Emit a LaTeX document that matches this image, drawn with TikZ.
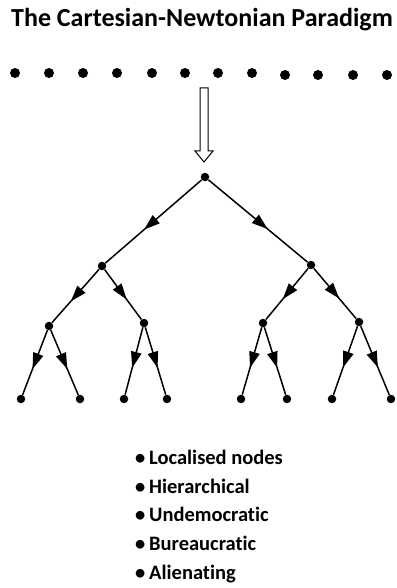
\documentclass[tikz,border=0pt]{standalone}
\usepackage{fontspec}
\setmainfont{Carlito}[Ligatures={NoCommon}]
\usetikzlibrary{arrows.meta,decorations.markings}
\begin{document}
\begin{tikzpicture}[x=1pt,y=-1pt,
  dot/.style={circle,fill=black,inner sep=0pt,minimum size=8.5pt},
  bigdot/.style={circle,fill=black,inner sep=0pt,minimum size=10pt},
  edge/.style={line width=1.5pt,postaction={decorate},
    decoration={markings,mark=at position 0.6 with {\arrow{Triangle[length=16pt,width=10.5pt]}}}},
  item/.style={anchor=base west,inner sep=0pt,font=\bfseries\fontsize{20.5}{24}\selectfont}]
\useasboundingbox (0,0) rectangle (396,588);
\node[anchor=base west,inner sep=0pt,font=\bfseries\fontsize{26}{30}\selectfont] (title) at (11,27) {The Cartesian-Newtonian Paradigm};
% row of dots
\foreach \x/\y [count=\i] in {15/73,49/73,83/73,117/73,152/73,185/73,218/73,252/73,285/75,318/75,353/75,387/75}
  \node[bigdot] (p\i) at (\x,\y) {};
% hollow arrow
\draw[line width=1pt,fill=white] (200,88) -- (208,88) -- (208,151) -- (213,151) -- (204,162) -- (195,151) -- (200,151) -- cycle;
% tree
\node[dot] (r) at (205,177) {};
\node[dot] (a) at (102,266) {};
\node[dot] (b) at (311,265) {};
\node[dot] (aa) at (49,326) {};
\node[dot] (ab) at (144,323) {};
\node[dot] (ba) at (263,323) {};
\node[dot] (bb) at (359,322) {};
\foreach \n/\x in {1/21,2/80,3/124,4/167,5/241,6/287,7/332,8/391}
  \node[dot] (l\n) at (\x,399) {};
\draw[edge] (r) -- (a);
\draw[edge] (r) -- (b);
\draw[edge] (a) -- (aa);
\draw[edge] (a) -- (ab);
\draw[edge] (b) -- (ba);
\draw[edge] (b) -- (bb);
\draw[edge] (aa) -- (l1);
\draw[edge] (aa) -- (l2);
\draw[edge] (ab) -- (l3);
\draw[edge] (ab) -- (l4);
\draw[edge] (ba) -- (l5);
\draw[edge] (ba) -- (l6);
\draw[edge] (bb) -- (l7);
\draw[edge] (bb) -- (l8);
% list
\node[item] (i1) at (135,464) {\makebox[14pt][l]{•}Localised nodes};
\node[item] (i2) at (135,493) {\makebox[14pt][l]{•}Hierarchical};
\node[item] (i3) at (135,521) {\makebox[14pt][l]{•}Undemocratic};
\node[item] (i4) at (135,550) {\makebox[14pt][l]{•}Bureaucratic};
\node[item] (i5) at (135,579) {\makebox[14pt][l]{•}Alienating};
\end{tikzpicture}
\end{document}
